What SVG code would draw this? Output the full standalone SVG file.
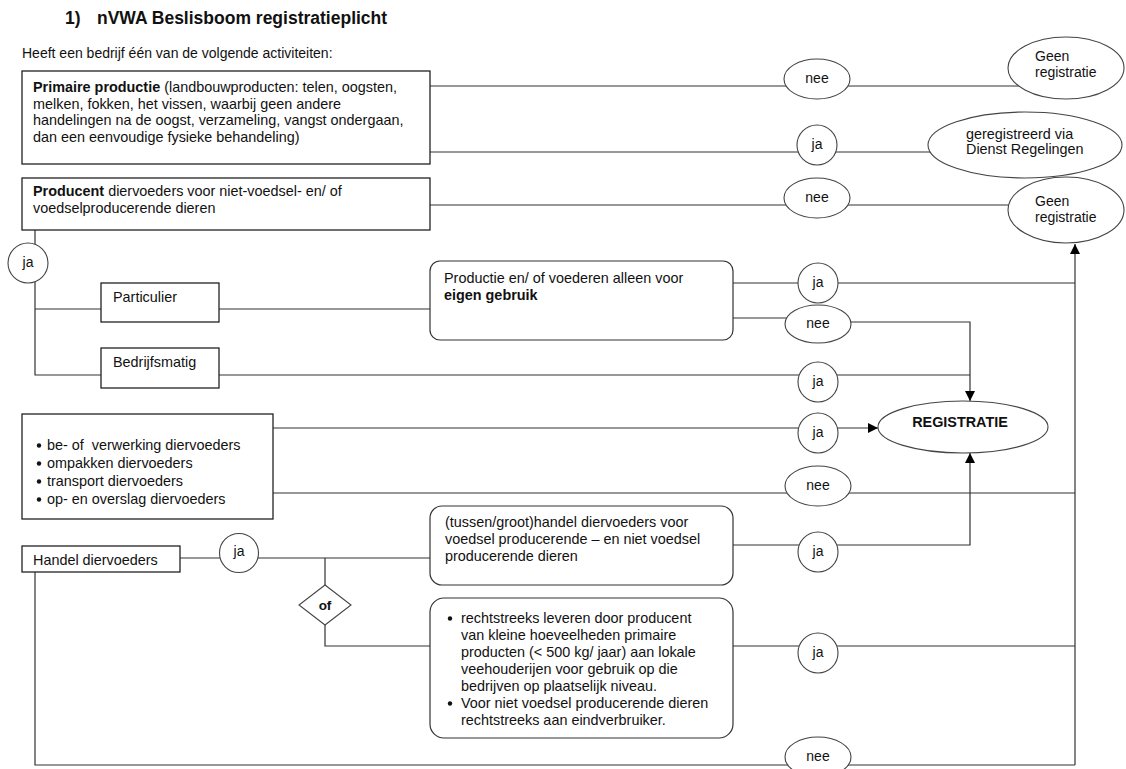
<svg xmlns="http://www.w3.org/2000/svg" width="1126" height="769" viewBox="0 0 1126 769">
<defs>
<marker id="arr" viewBox="0 0 10 10" refX="10" refY="5" markerWidth="10" markerHeight="10" markerUnits="userSpaceOnUse" orient="auto">
<path d="M0,0 L10,5 L0,10 z" fill="#000"/>
</marker>
<style>
text{font-family:"Liberation Sans",Arial,sans-serif;font-size:14.4px;fill:#111}
.b{font-weight:bold}
.title{font-size:17.5px;font-weight:bold}
.box{fill:#fff;stroke:#222;stroke-width:1.3}
.rbox{fill:#fff;stroke:#333;stroke-width:1.2}
.ell{fill:#fff;stroke:#444;stroke-width:1.1}
.c{text-anchor:middle;font-size:14px}
.con{fill:none;stroke:#333;stroke-width:1.2}
</style>
</defs>
<rect width="1126" height="769" fill="#fff"/>

<g id="title">
<text class="title" x="65" y="24">1)</text>
<text class="title" x="97" y="24">nVWA Beslisboom registratieplicht</text>
<text x="22" y="58" style="font-size:14px">Heeft een bedrijf één van de volgende activiteiten:</text>
</g>

<g id="connectors">
<path class="con" d="M430,86 H1030"/>
<path class="con" d="M430,152 H960"/>
<path class="con" d="M430,205 H1030"/>
<path class="con" d="M35,230 V375 H101 M35,309 H101"/>
<path class="con" d="M219,309 H430"/>
<path class="con" d="M733,283 H1075"/>
<path class="con" d="M733,318 H805"/>
<path class="con" d="M830,322 H970 V401" marker-end="url(#arr)"/>
<path class="con" d="M219,375 H970"/>
<path class="con" d="M273,428 H878" marker-end="url(#arr)"/>
<path class="con" d="M273,493 H1075"/>
<path class="con" d="M180,558 H430"/>
<path class="con" d="M325,558 V585 M325,625 V646 H430"/>
<path class="con" d="M733,545 H970 V453" marker-end="url(#arr)"/>
<path class="con" d="M733,646 H1075"/>
<path class="con" d="M35,572 V765 H1075"/>
<path class="con" d="M1075,765 V244" marker-end="url(#arr)"/>
</g>

<g id="box-primaire">
<rect class="box" x="22" y="71" width="408" height="93"/>
<text x="33" y="92"><tspan class="b">Primaire productie</tspan> (landbouwproducten: telen, oogsten,</text>
<text x="33" y="108.5">melken, fokken, het vissen, waarbij geen andere</text>
<text x="33" y="125">handelingen na de oogst, verzameling, vangst ondergaan,</text>
<text x="33" y="141.5">dan een eenvoudige fysieke behandeling)</text>
</g>

<g id="box-producent">
<rect class="box" x="22" y="178" width="408" height="52"/>
<text x="33" y="196"><tspan class="b">Producent</tspan> diervoeders voor niet-voedsel- en/ of</text>
<text x="33" y="213">voedselproducerende dieren</text>
</g>

<g id="nee1"><ellipse class="ell" cx="817" cy="79" rx="33" ry="20"/><text class="c" x="817" y="83">nee</text></g>
<g id="geen1"><ellipse class="ell" cx="1066" cy="68" rx="58" ry="31"/><text x="1035" y="61" style="font-size:14px">Geen</text><text x="1035" y="77" style="font-size:14px">registratie</text></g>
<g id="ja1"><circle class="ell" cx="817" cy="145" r="20"/><text class="c" x="817" y="149">ja</text></g>
<g id="geregistreerd"><ellipse class="ell" cx="1025" cy="145" rx="97" ry="33"/><text x="966" y="139">geregistreerd via</text><text x="966" y="154">Dienst Regelingen</text></g>
<g id="nee2"><ellipse class="ell" cx="817" cy="198" rx="33" ry="20"/><text class="c" x="817" y="202">nee</text></g>
<g id="geen2"><ellipse class="ell" cx="1066" cy="210" rx="58" ry="33"/><text x="1035" y="206" style="font-size:14px">Geen</text><text x="1035" y="222" style="font-size:14px">registratie</text></g>

<g id="ja-left"><circle class="ell" cx="28" cy="263" r="20"/><text class="c" x="28" y="267">ja</text></g>
<g id="particulier"><rect class="box" x="101" y="283" width="118" height="39"/><text x="113" y="302">Particulier</text></g>
<g id="bedrijfsmatig"><rect class="box" x="101" y="348" width="118" height="40"/><text x="113" y="367">Bedrijfsmatig</text></g>

<g id="eigen-gebruik">
<rect class="rbox" x="430" y="261" width="303" height="79" rx="10"/>
<text x="444" y="283">Productie en/ of voederen alleen voor</text>
<text x="444" y="300" class="b">eigen gebruik</text>
</g>
<g id="ja2"><circle class="ell" cx="818" cy="283" r="20"/><text class="c" x="818" y="287">ja</text></g>
<g id="nee3"><ellipse class="ell" cx="818" cy="324" rx="33" ry="19"/><text class="c" x="818" y="328">nee</text></g>
<g id="ja3"><circle class="ell" cx="818" cy="382" r="20"/><text class="c" x="818" y="386">ja</text></g>

<g id="activiteiten">
<rect class="box" x="22" y="414" width="251" height="105"/>
<circle cx="39" cy="445.5" r="2.2" fill="#111"/><text x="47" y="450">be- of&#160; verwerking diervoeders</text>
<circle cx="39" cy="463.5" r="2.2" fill="#111"/><text x="47" y="468">ompakken diervoeders</text>
<circle cx="39" cy="481.5" r="2.2" fill="#111"/><text x="47" y="486">transport diervoeders</text>
<circle cx="39" cy="499.5" r="2.2" fill="#111"/><text x="47" y="504">op- en overslag diervoeders</text>
</g>
<g id="ja4"><circle class="ell" cx="818" cy="433" r="20"/><text class="c" x="818" y="437">ja</text></g>
<g id="registratie"><ellipse class="ell" cx="963" cy="427" rx="85" ry="26"/><text class="b" x="960" y="427" text-anchor="middle">REGISTRATIE</text></g>
<g id="nee4"><ellipse class="ell" cx="818" cy="486" rx="33" ry="20"/><text class="c" x="818" y="490">nee</text></g>

<g id="handel"><rect class="box" x="22" y="546" width="158" height="26"/><text x="33" y="565">Handel diervoeders</text></g>
<g id="ja-handel"><circle class="ell" cx="239" cy="553" r="19.5"/><text class="c" x="239" y="556">ja</text></g>
<g id="of"><path d="M325,585 L351,605 L325,625 L299,605 Z" fill="#fff" stroke="#444" stroke-width="1.1"/><text class="b" x="325" y="610" text-anchor="middle" style="font-size:13.5px">of</text></g>

<g id="groothandel">
<rect class="rbox" x="430" y="506" width="303" height="79" rx="12"/>
<text x="445" y="527">(tussen/groot)handel diervoeders voor</text>
<text x="445" y="544">voedsel producerende – en niet voedsel</text>
<text x="445" y="561">producerende dieren</text>
</g>
<g id="ja5"><circle class="ell" cx="818" cy="552" r="20"/><text class="c" x="818" y="556">ja</text></g>

<g id="rechtstreeks">
<rect class="rbox" x="430" y="598" width="303" height="140" rx="14"/>
<circle cx="450" cy="618.5" r="2.2" fill="#111"/>
<text x="461" y="623">rechtstreeks leveren door producent</text>
<text x="461" y="640">van kleine hoeveelheden primaire</text>
<text x="461" y="657">producten (&lt; 500 kg/ jaar) aan lokale</text>
<text x="461" y="674">veehouderijen voor gebruik op die</text>
<text x="461" y="691">bedrijven op plaatselijk niveau.</text>
<circle cx="450" cy="703.5" r="2.2" fill="#111"/>
<text x="461" y="708">Voor niet voedsel producerende dieren</text>
<text x="461" y="725">rechtstreeks aan eindverbruiker.</text>
</g>
<g id="ja6"><circle class="ell" cx="818" cy="653" r="20"/><text class="c" x="818" y="657">ja</text></g>
<g id="nee5"><ellipse class="ell" cx="818" cy="757" rx="33" ry="20"/><text class="c" x="818" y="761">nee</text></g>
</svg>
